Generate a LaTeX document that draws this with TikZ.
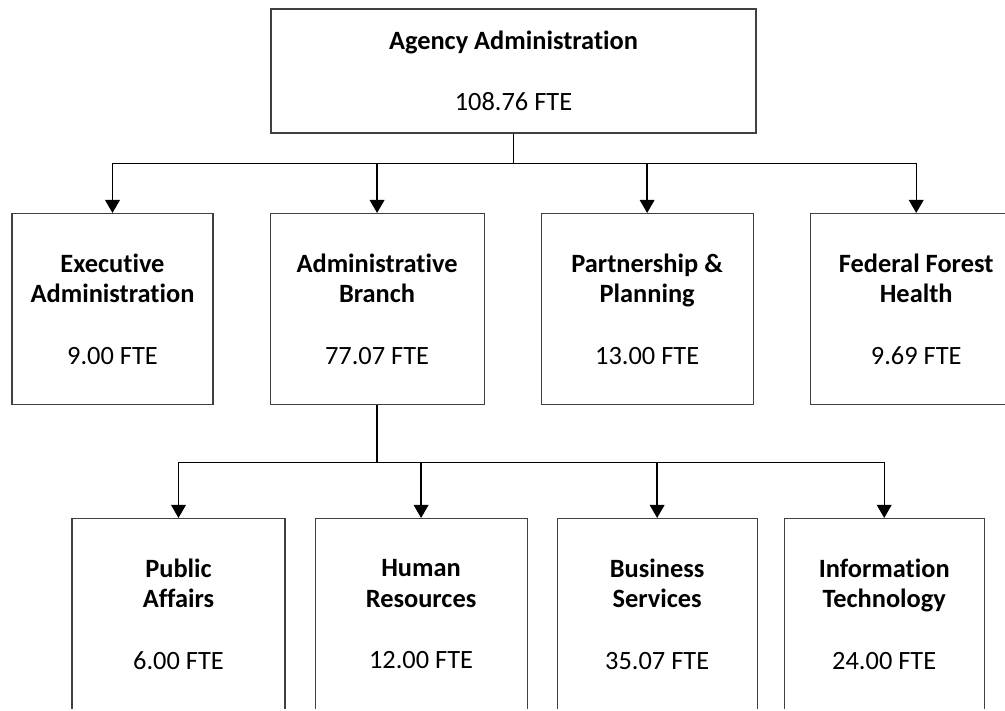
\documentclass[tikz,border=0pt]{standalone}
\usepackage{fontspec}
\setmainfont{Carlito}[Ligatures=NoCommon]
\usetikzlibrary{arrows.meta, positioning}

\begin{document}
\begin{tikzpicture}[x=0.75pt,y=-0.75pt,>={Triangle[length=9.75pt,width=11pt]},
  node distance=42pt,
  unit node/.style={rectangle,draw=black!75,line width=0.8pt,align=center,
    font=\fontsize{19.8}{23}\selectfont,minimum height=143.25pt,inner sep=0pt},
  link/.style={line width=1pt}]

  \useasboundingbox (0,0) rectangle (1005,710);
  \clip (0,0) rectangle (1005,708);

  \node[unit node,minimum width=363.75pt,minimum height=93pt] (agency) at (513.5,71)
    {\textbf{Agency Administration}\\[23pt]108.76 FTE};

  % first level
  \node[unit node,minimum width=150.75pt] (exec) at (112.5,309)
    {\textbf{Executive}\\\textbf{Administration}\\[23pt]9.00 FTE};
  \node[unit node,minimum width=160.5pt] (branch) [right=of exec]
    {\textbf{Administrative}\\\textbf{Branch}\\[23pt]77.07 FTE};
  \node[unit node,minimum width=159pt] (partner) [right=of branch]
    {\textbf{Partnership \&}\\\textbf{Planning}\\[23pt]13.00 FTE};
  \node[unit node,minimum width=159pt] (federal) [right=of partner]
    {\textbf{Federal Forest}\\\textbf{Health}\\[23pt]9.69 FTE};

  % second level
  \node[unit node,minimum width=159.75pt] (public) at (178.5,614)
    {\textbf{Public}\\\textbf{Affairs}\\[23pt]6.00 FTE};
  \node[unit node,minimum width=159pt] (hr) [right=21.75pt of public]
    {\textbf{Human}\\\textbf{Resources}\\[23pt]12.00 FTE};
  \node[unit node,minimum width=150pt] (business) [right=21.75pt of hr]
    {\textbf{Business}\\\textbf{Services}\\[23pt]35.07 FTE};
  \node[unit node,minimum width=150pt] (it) [right=19.5pt of business]
    {\textbf{Information}\\\textbf{Technology}\\[23pt]24.00 FTE};

  \coordinate[below=22.5pt of agency] (top bus);
  \draw[link] (agency) -- (top bus);
  \foreach \n in {exec,branch,partner,federal}
    \draw[link,->] (top bus) -| (\n);

  \coordinate[below=43pt of branch] (low bus);
  \draw[link] (branch) -- (low bus);
  \foreach \n in {public,hr,business,it}
    \draw[link,->] (low bus) -| (\n);
\end{tikzpicture}
\end{document}
